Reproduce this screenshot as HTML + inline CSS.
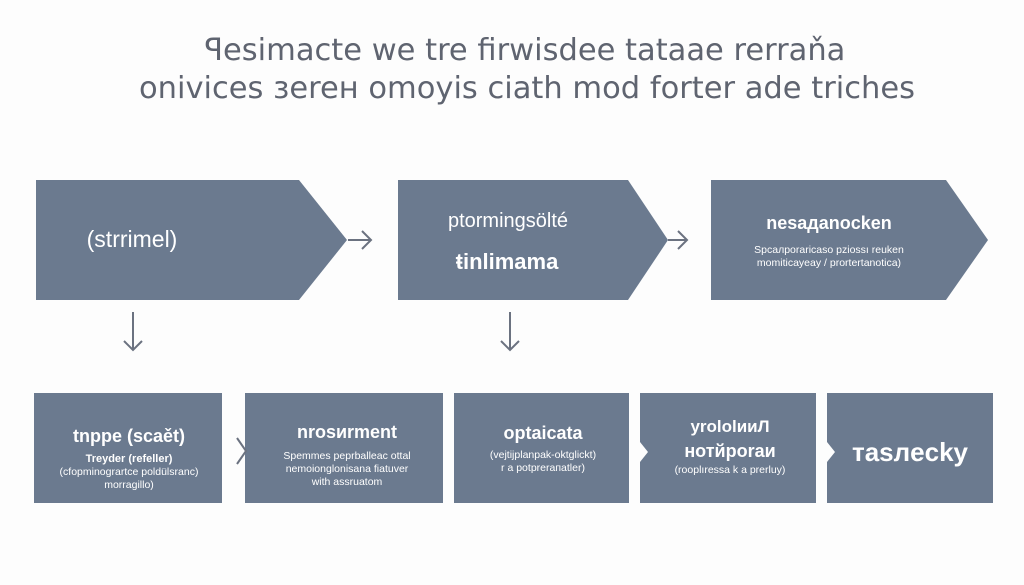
<!DOCTYPE html>
<html><head><meta charset="utf-8"><style>
html,body{margin:0;padding:0;background:#fdfdfd;}
svg{display:block;}
text{font-family:"Liberation Sans","DejaVu Sans",sans-serif;fill:#fff;text-anchor:middle;}
.t{fill:#5f6470;font-family:"DejaVu Sans","Liberation Sans",sans-serif;}
</style></head><body>
<svg width="1024" height="585" viewBox="0 0 1024 585" xmlns="http://www.w3.org/2000/svg">
<rect width="1024" height="585" fill="#fdfdfd"/>
<text class="t" x="525" y="60" font-size="30.5">ꟼesimacte we tre firwisdee tataae rerraňa</text>
<text class="t" x="527" y="98" font-size="30.5">onivices зereн omoyis ciath mod forter ade triches</text>
<g fill="#6b7a8f">
<polygon points="36,180 299,180 347,240 299,300 36,300"/>
<polygon points="398,180 628,180 668,240 628,300 398,300"/>
<polygon points="711,180 946,180 988,240 946,300 711,300"/>
<rect x="34" y="393" width="188" height="110"/>
<rect x="245" y="393" width="198" height="110"/>
<rect x="454" y="393" width="175" height="110"/>
<rect x="640" y="393" width="176" height="110"/>
<rect x="827" y="393" width="166" height="110"/>
</g>
<polygon points="640,442 648,452 640,462" fill="#fdfdfd"/>
<polygon points="827,442 835,452 827,462" fill="#fdfdfd"/>
<g stroke="#6b7280" stroke-width="2" fill="none">
<path d="M348,240 H370 M362,231 L371,240 L362,249"/>
<path d="M668,240 H686 M678,231 L687,240 L678,249"/>
<path d="M133,312 V350 M124,341 L133,350 L142,341"/>
<path d="M510,312 V350 M501,341 L510,350 L519,341"/>
<path d="M237,438 L246,451 L237,464"/>
</g>
<text x="132" y="247" font-size="23">(strrimel)</text>
<text x="508" y="227" font-size="20">ptormingsölté</text>
<text x="507" y="269" font-size="22" font-weight="bold">ŧinlimama</text>
<text x="829" y="229" font-size="18" font-weight="bold">nesaдanocken</text>
<text x="829" y="253" font-size="10.5">Spcaлporaricaso  pziossı reuken</text>
<text x="829" y="266" font-size="10.5">momiticayeay / prortertanotica)</text>
<text x="129" y="442" font-size="18" font-weight="bold">tnppe (scaět)</text>
<text x="129" y="462" font-size="11" font-weight="bold">Treyder (refeller)</text>
<text x="129" y="475" font-size="10.5">(cfopminogrartce poldülsranc)</text>
<text x="129" y="488" font-size="10.5">morragillo)</text>
<text x="347" y="438" font-size="18" font-weight="bold">nrosиrment</text>
<text x="347" y="459" font-size="10.5">Spemmes peprballeac ottal</text>
<text x="347" y="472" font-size="10.5">nemoionglonisana fiatuver</text>
<text x="347" y="485" font-size="10.5">with assruatom</text>
<text x="543" y="439" font-size="18" font-weight="bold">optaicata</text>
<text x="543" y="458" font-size="10.5">(vejtijplanpak-oktglickt)</text>
<text x="543" y="471" font-size="10.5">r a potpreraпatler)</text>
<text x="730" y="432" font-size="17" font-weight="bold">yrololииЛ</text>
<text x="730" y="457" font-size="18" font-weight="bold">нотйporaи</text>
<text x="730" y="473" font-size="10.5">(rooplıressa k a prerluy)</text>
<text x="910" y="461" font-size="26" font-weight="bold">тasлecky</text>
</svg>
</body></html>
